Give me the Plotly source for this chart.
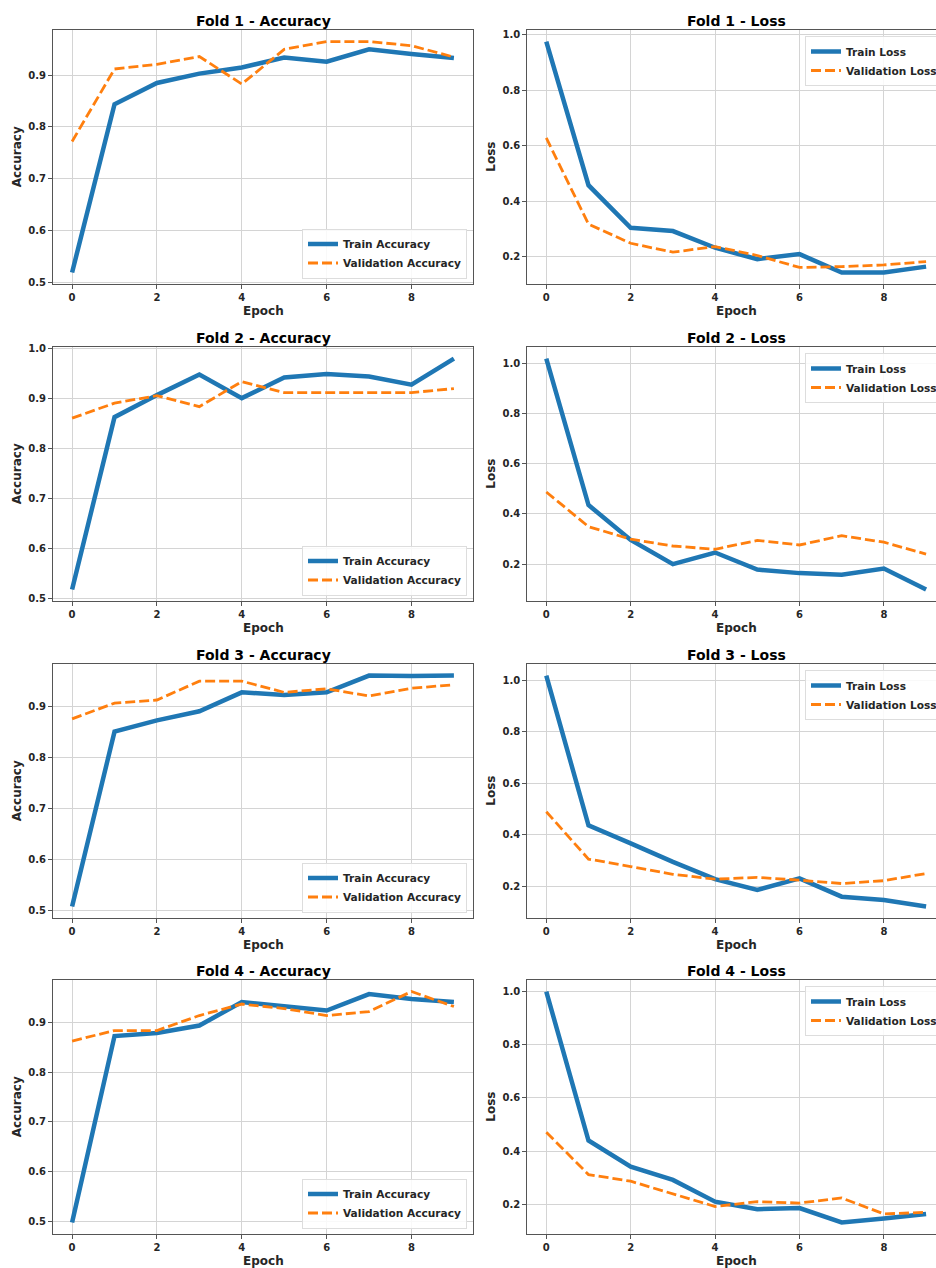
import plotly.graph_objects as go

epochs = list(range(10))

fold1_train_acc = [0.519, 0.844, 0.885, 0.903, 0.915, 0.934, 0.926, 0.950, 0.941, 0.933]
fold1_val_acc = [0.772, 0.912, 0.921, 0.936, 0.883, 0.950, 0.965, 0.965, 0.957, 0.935]
fold1_train_loss = [0.975, 0.458, 0.305, 0.293, 0.233, 0.192, 0.210, 0.144, 0.144, 0.165]
fold1_val_loss = [0.628, 0.318, 0.249, 0.217, 0.237, 0.205, 0.162, 0.165, 0.171, 0.183]

fold2_train_acc = [0.518, 0.862, 0.906, 0.947, 0.900, 0.941, 0.948, 0.943, 0.927, 0.979]
fold2_val_acc = [0.860, 0.890, 0.905, 0.883, 0.933, 0.911, 0.911, 0.911, 0.911, 0.919]
fold2_train_loss = [1.018, 0.435, 0.296, 0.200, 0.246, 0.178, 0.164, 0.158, 0.182, 0.099]
fold2_val_loss = [0.487, 0.349, 0.299, 0.272, 0.259, 0.294, 0.276, 0.313, 0.287, 0.240]

fold3_train_acc = [0.507, 0.850, 0.872, 0.890, 0.927, 0.922, 0.927, 0.960, 0.959, 0.960]
fold3_val_acc = [0.875, 0.906, 0.912, 0.949, 0.949, 0.927, 0.934, 0.920, 0.935, 0.942]
fold3_train_loss = [1.018, 0.436, 0.366, 0.294, 0.227, 0.185, 0.230, 0.159, 0.146, 0.121]
fold3_val_loss = [0.489, 0.305, 0.276, 0.246, 0.227, 0.234, 0.223, 0.210, 0.221, 0.249]

fold4_train_acc = [0.499, 0.872, 0.878, 0.893, 0.940, 0.931, 0.923, 0.956, 0.946, 0.940]
fold4_val_acc = [0.862, 0.883, 0.883, 0.913, 0.936, 0.927, 0.913, 0.921, 0.961, 0.931]
fold4_train_loss = [1.000, 0.440, 0.342, 0.292, 0.210, 0.182, 0.186, 0.132, 0.147, 0.164]
fold4_val_loss = [0.471, 0.312, 0.287, 0.239, 0.192, 0.210, 0.205, 0.224, 0.164, 0.170]

folds = [
    (fold1_train_acc, fold1_val_acc, fold1_train_loss, fold1_val_loss),
    (fold2_train_acc, fold2_val_acc, fold2_train_loss, fold2_val_loss),
    (fold3_train_acc, fold3_val_acc, fold3_train_loss, fold3_val_loss),
    (fold4_train_acc, fold4_val_acc, fold4_train_loss, fold4_val_loss),
]

W, H = 936, 1268
BLUE = "#1f77b4"
ORANGE = "#ff7f0e"
FONT = "DejaVu Sans"
TXT = "#262626"

# geometry in page pixels
row_tops = [30, 347, 664, 980]
row_h = 254
left_x0, left_x1 = 53, 473
right_x0 = 527.3
right_px_per_epoch = 42.2
right_zero = 546
right_full_end = right_zero + 9.45 * right_px_per_epoch


def py(p):
    return 1 - p / H


def px(p):
    return p / W


fig = go.Figure()
layout = dict(
    width=W, height=H,
    margin=dict(l=0, r=0, t=0, b=0, autoexpand=False),
    paper_bgcolor="white", plot_bgcolor="white",
    showlegend=True,
    annotations=[],
)

idx = 0
for r, (tr_acc, va_acc, tr_loss, va_loss) in enumerate(folds):
    top = row_tops[r]
    bot = top + row_h
    for c in range(2):
        idx += 1
        sfx = "" if idx == 1 else str(idx)
        if c == 0:
            ytr, yva = tr_acc, va_acc
            names = ("Train Accuracy", "Validation Accuracy")
            ylabel = "Accuracy"
            title = f"Fold {r+1} - Accuracy"
            dtick = 0.1
            xdom = [px(left_x0), px(left_x1)]
            xrange = [-0.45, 9.45]
        else:
            ytr, yva = tr_loss, va_loss
            names = ("Train Loss", "Validation Loss")
            ylabel = "Loss"
            title = f"Fold {r+1} - Loss"
            dtick = 0.2
            xdom = [px(right_x0), 1.0]
            xrange = [-0.45, -0.45 + (W - right_x0) / right_px_per_epoch]
        allv = list(ytr) + list(yva)
        lo, hi = min(allv), max(allv)
        span = hi - lo
        yrange = [lo - 0.05 * span, hi + 0.05 * span]
        leg = "legend" if idx == 1 else f"legend{idx}"
        fig.add_trace(go.Scatter(
            x=epochs, y=ytr, mode="lines", name=names[0],
            line=dict(color=BLUE, width=4.5),
            xaxis="x" + sfx, yaxis="y" + sfx, legend=leg))
        fig.add_trace(go.Scatter(
            x=epochs, y=yva, mode="lines", name=names[1],
            line=dict(color=ORANGE, width=2.8, dash="10px,4px"),
            xaxis="x" + sfx, yaxis="y" + sfx, legend=leg))
        ydom = [py(bot), py(top)]
        layout["xaxis" + sfx] = dict(
            domain=xdom, range=xrange, anchor="y" + sfx,
            tickvals=[0, 2, 4, 6, 8], ticks="outside", ticklen=4,
            tickcolor="#555555",
            tickfont=dict(family=FONT, size=10, color=TXT, weight="bold"),
            showgrid=True, gridcolor="#d4d4d4", gridwidth=1.2,
            showline=True, linecolor="#555555", linewidth=1.2,
            mirror=True, zeroline=False, automargin=False,
        )
        layout["yaxis" + sfx] = dict(
            domain=ydom, range=yrange, anchor="x" + sfx,
            dtick=dtick, tick0=0, tickformat=".1f", ticks="outside", ticklen=4,
            tickcolor="#555555",
            tickfont=dict(family=FONT, size=10, color=TXT, weight="bold"),
            showgrid=True, gridcolor="#d4d4d4", gridwidth=1.2,
            showline=True, linecolor="#555555", linewidth=1.2,
            mirror=(c == 0), zeroline=False, automargin=False,
        )
        if c == 0:
            cx = (left_x0 + left_x1) / 2
            ylab_x = 17.3
            legd = dict(x=px(left_x1 - 6), y=py(bot - 5.5),
                        xanchor="right", yanchor="bottom")
        else:
            cx = (right_x0 + right_full_end) / 2
            ylab_x = 490.7
            legd = dict(x=px(805), y=py(top + 6),
                        xanchor="left", yanchor="top")
        layout[leg] = dict(
            **legd, xref="paper", yref="paper",
            bgcolor="rgba(255,255,255,0.85)", bordercolor="#dddddd",
            borderwidth=1,
            font=dict(family=FONT, size=10.6, color=TXT, weight="bold"),
            tracegroupgap=0, itemwidth=30,
        )
        layout["annotations"] += [
            dict(text=title, x=px(cx), y=py(top - 9.5), xref="paper",
                 yref="paper", showarrow=False, xanchor="center",
                 yanchor="middle",
                 font=dict(family=FONT, size=14, color="black", weight="bold")),
            dict(text="Epoch", x=px(cx), y=py(bot + 27.4), xref="paper",
                 yref="paper", showarrow=False, xanchor="center",
                 yanchor="middle",
                 font=dict(family=FONT, size=12, color=TXT, weight="bold")),
            dict(text=ylabel, x=px(ylab_x), y=py((top + bot) / 2),
                 xref="paper", yref="paper", showarrow=False,
                 textangle=-90, xanchor="center", yanchor="middle",
                 font=dict(family=FONT, size=12, color=TXT, weight="bold")),
        ]

fig.update_layout(**layout)
fig.write_html(
    "out.html",
    config={"displayModeBar": False},
    post_script=("document.body.style.margin='0';"
                 "document.body.style.overflow='hidden';"
                 "document.documentElement.style.overflow='hidden';"),
)
